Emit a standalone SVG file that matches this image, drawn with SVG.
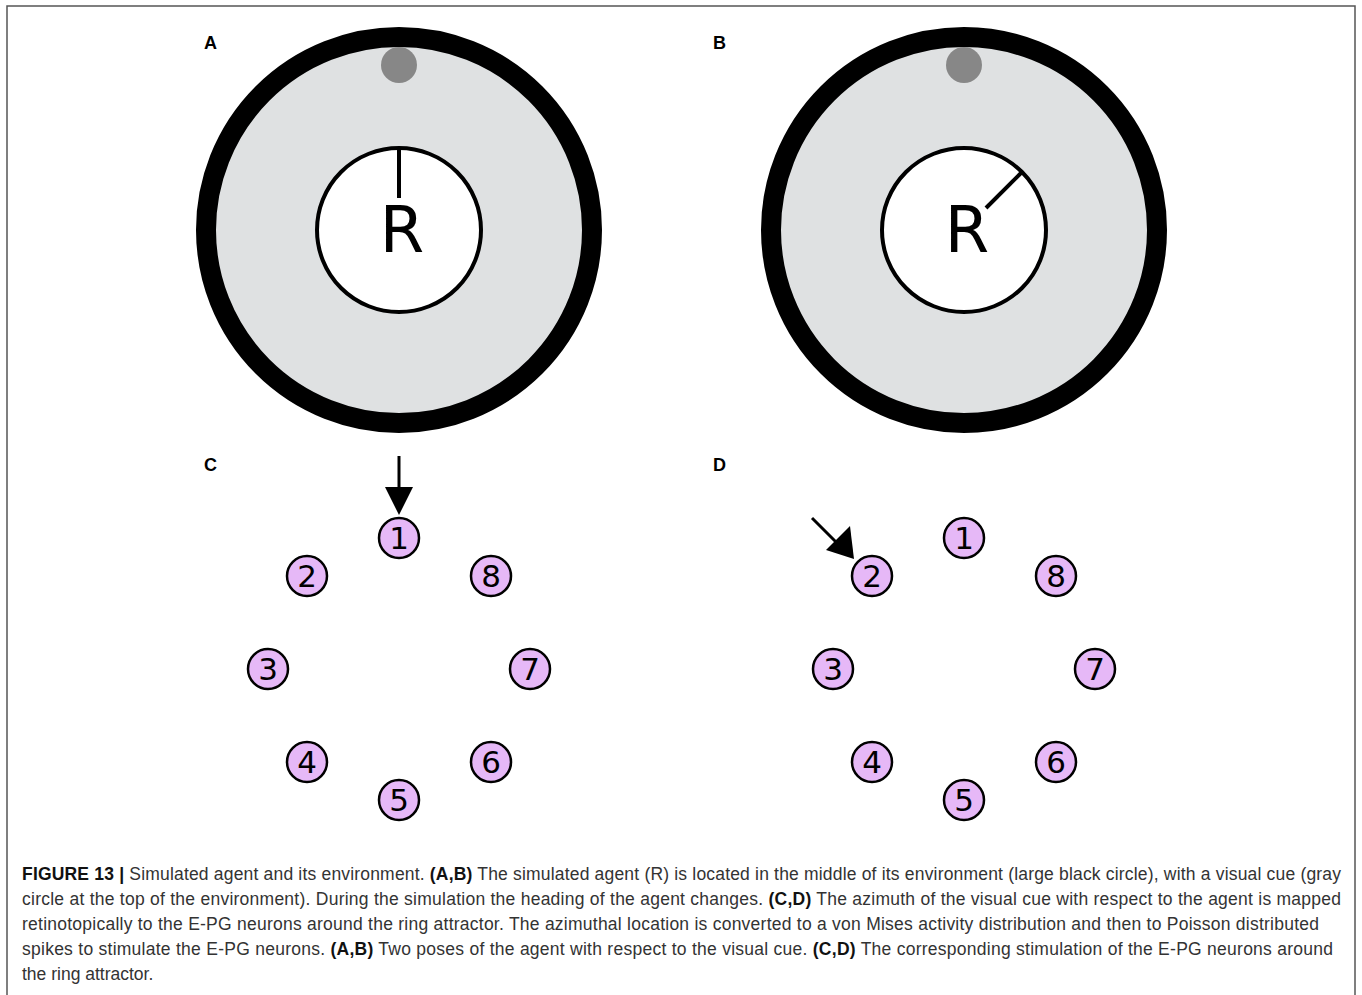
<svg xmlns="http://www.w3.org/2000/svg" width="1362" height="995" viewBox="0 0 1362 995">
<style>
.lbl{font-family:"Liberation Sans",Arial,sans-serif;font-weight:bold;font-size:18px;fill:#000}
.ring{fill:#dfe1e2;stroke:#000;stroke-width:20}
.cue{fill:#878787}
.inner{fill:#fff;stroke:#000;stroke-width:4}
.head{stroke:#000;stroke-width:4;fill:none}
.rtxt{font-family:"DejaVu Sans",sans-serif;font-size:64px;fill:#000;text-anchor:middle}
.node circle{fill:#e6b8f7;stroke:#000;stroke-width:2.5}
.node text{font-family:"DejaVu Sans",sans-serif;font-size:31px;fill:#000;text-anchor:middle}
.arr{stroke:#000;stroke-width:3;fill:none}
.cap{font-family:"Liberation Sans Narrow","Liberation Sans",Arial,sans-serif;font-size:17.5px;fill:#333}
.cap .b{font-weight:bold;fill:#111}
</style>
<rect x="0" y="0" width="1362" height="995" fill="#fff"/>
<rect x="7" y="6" width="1348" height="1010" fill="none" stroke="#555" stroke-width="1.5"/>

<text class="lbl" x="204" y="49">A</text>
<text class="lbl" x="713" y="49">B</text>
<text class="lbl" x="204" y="471">C</text>
<text class="lbl" x="713" y="471">D</text>

<g id="panelA">
<circle class="ring" cx="399" cy="230" r="193"/>
<circle class="cue" cx="399" cy="65" r="18"/>
<circle class="inner" cx="399" cy="230" r="82"/>
<line class="head" x1="399" y1="148" x2="399" y2="198"/>
<text class="rtxt" x="402" y="252">R</text>
</g>

<g id="panelB">
<circle class="ring" cx="964" cy="230" r="193"/>
<circle class="cue" cx="964" cy="65" r="18"/>
<circle class="inner" cx="964" cy="230" r="82"/>
<line class="head" x1="1022" y1="172" x2="986" y2="208"/>
<text class="rtxt" x="967" y="252">R</text>
</g>

<g id="nodesC">
<g id="c1" class="node"><circle cx="399" cy="538" r="20"/><text x="399" y="549">1</text></g>
<g id="c2" class="node"><circle cx="307" cy="576" r="20"/><text x="307" y="587">2</text></g>
<g id="c3" class="node"><circle cx="268" cy="669" r="20"/><text x="268" y="680">3</text></g>
<g id="c4" class="node"><circle cx="307" cy="762" r="20"/><text x="307" y="773">4</text></g>
<g id="c5" class="node"><circle cx="399" cy="800" r="20"/><text x="399" y="811">5</text></g>
<g id="c6" class="node"><circle cx="491" cy="762" r="20"/><text x="491" y="773">6</text></g>
<g id="c7" class="node"><circle cx="530" cy="669" r="20"/><text x="530" y="680">7</text></g>
<g id="c8" class="node"><circle cx="491" cy="576" r="20"/><text x="491" y="587">8</text></g>
</g>

<g id="nodesD">
<g id="d1" class="node"><circle cx="964" cy="538" r="20"/><text x="964" y="549">1</text></g>
<g id="d2" class="node"><circle cx="872" cy="576" r="20"/><text x="872" y="587">2</text></g>
<g id="d3" class="node"><circle cx="833" cy="669" r="20"/><text x="833" y="680">3</text></g>
<g id="d4" class="node"><circle cx="872" cy="762" r="20"/><text x="872" y="773">4</text></g>
<g id="d5" class="node"><circle cx="964" cy="800" r="20"/><text x="964" y="811">5</text></g>
<g id="d6" class="node"><circle cx="1056" cy="762" r="20"/><text x="1056" y="773">6</text></g>
<g id="d7" class="node"><circle cx="1095" cy="669" r="20"/><text x="1095" y="680">7</text></g>
<g id="d8" class="node"><circle cx="1056" cy="576" r="20"/><text x="1056" y="587">8</text></g>
</g>

<g id="connectors">
<line x1="399" y1="456" x2="399" y2="490" class="arr"/>
<path d="M385,487 L413,487 L399,515 z" fill="#000"/>
<line x1="812" y1="518" x2="836" y2="542" class="arr"/>
<path d="M826,550 L850,526 L854,559 z" fill="#000"/>
</g>

<g id="caption">
<text class="cap" x="22" y="880" textLength="1319" lengthAdjust="spacing"><tspan class="b">FIGURE 13 |</tspan> Simulated agent and its environment. <tspan class="b">(A,B)</tspan> The simulated agent (R) is located in the middle of its environment (large black circle), with a visual cue (gray</text>
<text class="cap" x="22" y="905" textLength="1319" lengthAdjust="spacing">circle at the top of the environment). During the simulation the heading of the agent changes. <tspan class="b">(C,D)</tspan> The azimuth of the visual cue with respect to the agent is mapped</text>
<text class="cap" x="22" y="930" textLength="1297" lengthAdjust="spacing">retinotopically to the E-PG neurons around the ring attractor. The azimuthal location is converted to a von Mises activity distribution and then to Poisson distributed</text>
<text class="cap" x="22" y="955" textLength="1311" lengthAdjust="spacing">spikes to stimulate the E-PG neurons. <tspan class="b">(A,B)</tspan> Two poses of the agent with respect to the visual cue. <tspan class="b">(C,D)</tspan> The corresponding stimulation of the E-PG neurons around</text>
<text class="cap" x="22" y="980">the ring attractor.</text>
</g>
</svg>
